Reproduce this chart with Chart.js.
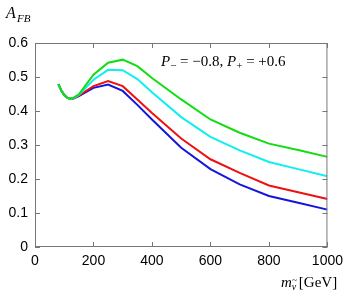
<!DOCTYPE html>
<html>
<head>
<meta charset="utf-8">
<script src="https://cdn.jsdelivr.net/npm/chart.js@4.4.1/dist/chart.umd.min.js"></script>
<style>
  html, body { margin: 0; padding: 0; background: #fff; }
  #wrap { width: 349px; height: 293px; position: relative; }
</style>
</head>
<body>
<div id="wrap"><canvas id="c" width="349" height="293"></canvas></div>
<script>
  // sneutrino mass [GeV]
  const masses = [80, 90, 100, 110, 120, 130, 150, 200, 250, 300, 350, 400, 500, 600, 700, 800, 900, 1000];

  // A_FB per curve (top to bottom)
  const greenVals = [0.479, 0.460, 0.447, 0.439, 0.436, 0.438, 0.449, 0.507, 0.542, 0.551, 0.532, 0.497, 0.434, 0.375, 0.336, 0.304, 0.285, 0.265];
  const cyanVals  = [0.479, 0.460, 0.447, 0.439, 0.436, 0.437, 0.447, 0.492, 0.521, 0.520, 0.494, 0.455, 0.382, 0.324, 0.284, 0.250, 0.229, 0.208];
  const redVals   = [0.479, 0.460, 0.447, 0.439, 0.436, 0.437, 0.445, 0.473, 0.488, 0.473, 0.434, 0.394, 0.319, 0.258, 0.218, 0.181, 0.161, 0.141];
  const blueVals  = [0.479, 0.460, 0.447, 0.439, 0.436, 0.436, 0.444, 0.468, 0.478, 0.459, 0.418, 0.375, 0.292, 0.229, 0.184, 0.150, 0.130, 0.110];

  const xTicks = [0, 200, 400, 600, 800, 1000];
  const yTicks = [0, 0.1, 0.2, 0.3, 0.4, 0.5, 0.6];

  function pts(vals) {
    return masses.map(function (m, i) { return { x: m, y: vals[i] }; });
  }

  function line(vals, color) {
    return {
      data: pts(vals),
      borderColor: color,
      borderWidth: 2,
      pointRadius: 0,
      tension: 0,
      fill: false,
    };
  }

  // tick marks inside the frame on all four sides + texts
  const decor = {
    id: 'decor',
    afterDraw: function (chart) {
      const ctx = chart.ctx;
      const a = chart.chartArea;
      const xs = chart.scales.x, ys = chart.scales.y;
      ctx.save();
      ctx.strokeStyle = '#777';
      ctx.lineWidth = 1;
      ctx.strokeRect(a.left + 0.5, a.top + 0.5, a.right - a.left - 1, a.bottom - a.top - 1);
      ctx.beginPath();
      xTicks.forEach(function (v) {
        const px = Math.round(xs.getPixelForValue(v)) + 0.5;
        ctx.moveTo(px, a.bottom); ctx.lineTo(px, a.bottom - 5);
        ctx.moveTo(px, a.top); ctx.lineTo(px, a.top + 5);
      });
      yTicks.forEach(function (v) {
        const py = Math.round(ys.getPixelForValue(v)) + 0.5;
        ctx.moveTo(a.left, py); ctx.lineTo(a.left + 5, py);
        ctx.moveTo(a.right, py); ctx.lineTo(a.right - 5, py);
      });
      ctx.stroke();

      ctx.fillStyle = '#000';
      ctx.textBaseline = 'alphabetic';
      ctx.textAlign = 'left';
      const rm = '15px "Liberation Serif", serif';
      const rmS = '11px "Liberation Serif", serif';
      const it = 'italic 15px "Liberation Serif", serif';

      // y title A_FB
      ctx.font = 'italic 16px "Liberation Serif", serif';
      ctx.fillText('A', 6, 18);
      ctx.font = 'italic 11px "Liberation Serif", serif';
      ctx.fillText('FB', 17, 22);

      // polarisation label
      let x = 161;
      const yb = 66;
      function piece(t, f, dy) {
        ctx.font = f;
        ctx.fillText(t, x, yb + (dy || 0));
        x += ctx.measureText(t).width;
      }
      piece('P', it);
      piece('\u2212', rmS, 3);
      piece(' = \u22120.8, ', rm);
      piece('P', it);
      piece('+', rmS, 3);
      piece(' = +0.6', rm);

      // x title m_nu~ [GeV]
      x = 281;
      const yx = 287;
      ctx.font = it;
      ctx.fillText('m', x, yx);
      x += ctx.measureText('m').width;
      ctx.font = 'italic 10px "Liberation Serif", serif';
      ctx.fillText('\u03bd', x, yx + 3);
      ctx.font = '9px "Liberation Serif", serif';
      ctx.fillText('~', x + 0.5, yx - 4);
      x += 7;
      ctx.font = rm;
      ctx.fillText('[GeV]', x, yx);
      ctx.restore();
    }
  };

  function plain(v) { return String(Math.round(v * 10) / 10); }

  new Chart(document.getElementById('c'), {
    type: 'line',
    data: {
      datasets: [
        line(greenVals, '#11dd11'),
        line(cyanVals, '#11eeee'),
        line(redVals, '#ee1111'),
        line(blueVals, '#1515dd'),
      ],
    },
    options: {
      responsive: false,
      animation: false,
      devicePixelRatio: 1,
      layout: { padding: { left: 0, top: 43, right: 19, bottom: 0 } },
      plugins: { legend: { display: false }, tooltip: { enabled: false } },
      scales: {
        x: {
          type: 'linear', min: 0, max: 1000,
          grid: { display: false, drawTicks: false },
          border: { display: false },
          afterFit: function (s) { s.height = 46; },
          ticks: {
            stepSize: 200, padding: 6, maxRotation: 0, callback: plain,
            color: '#000', font: { family: '"Liberation Sans", sans-serif', size: 14 },
          },
        },
        y: {
          min: 0, max: 0.6,
          grid: { display: false, drawTicks: false },
          border: { display: false },
          afterFit: function (s) { s.width = 35; },
          ticks: {
            stepSize: 0.1, padding: 7, callback: plain,
            color: '#000', font: { family: '"Liberation Sans", sans-serif', size: 14 },
          },
        },
      },
    },
    plugins: [decor],
  });
</script>
</body>
</html>
